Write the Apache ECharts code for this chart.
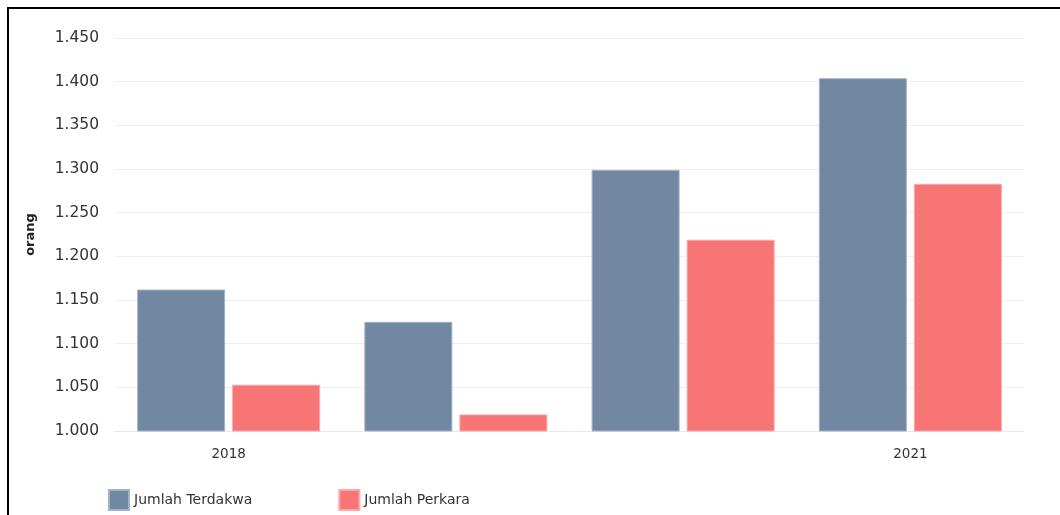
<!DOCTYPE html>
<html>
<head>
<meta charset="utf-8">
<script src="https://cdn.jsdelivr.net/npm/echarts@6/dist/echarts.min.js"></script>
<style>
html,body{margin:0;padding:0;background:#fff;}
#frame{position:absolute;left:7px;top:7px;width:1100px;height:600px;border-left:2px solid #000;border-top:2px solid #000;box-sizing:border-box;pointer-events:none;z-index:2;}
#chart{position:absolute;left:0;top:0;width:1060px;height:515px;}
</style>
</head>
<body>
<div id="chart"></div>
<div id="frame"></div>
<script>
const categories = ['2018', '2019', '2020', '2021'];
const shownLabels = ['2018', '2021'];
const terdakwa = [1162, 1125, 1299, 1404];
const perkara = [1053, 1019, 1219, 1283];
const seriesNames = ['Jumlah Terdakwa', 'Jumlah Perkara'];
const yMin = 1000, yMax = 1450, yStep = 50;

const chart = echarts.init(document.getElementById('chart'));
chart.setOption({
  animation: false,
  textStyle: { fontFamily: 'DejaVu Sans' },
  grid: { left: 115, right: 36, top: 38, bottom: 84 },
  legend: {
    left: 103, bottom: -1, itemWidth: 20, itemHeight: 20, itemGap: 86,
    icon: 'rect',
    textStyle: { fontSize: 14, color: '#333', fontFamily: 'DejaVu Sans' },
    data: seriesNames
  },
  xAxis: {
    type: 'category', data: categories,
    axisLine: { show: true, lineStyle: { color: '#e8e8e8' } },
    axisTick: { show: false },
    axisLabel: {
      fontSize: 13.5, color: '#333', margin: 16,
      formatter: v => shownLabels.includes(v) ? v : ''
    }
  },
  yAxis: {
    type: 'value', min: yMin, max: yMax, interval: yStep,
    name: 'orang', nameLocation: 'middle', nameGap: 78, nameRotate: 90,
    nameTextStyle: { fontSize: 13, fontWeight: 'bold', color: '#222', padding: [0, 0, 0, 0] },
    axisLine: { show: false }, axisTick: { show: false },
    axisLabel: { fontSize: 15.5, color: '#333', margin: 16, formatter: v => (v / 1000).toFixed(3) },
    splitLine: { lineStyle: { color: '#eeeeee' } }
  },
  series: [
    {
      name: seriesNames[0], type: 'bar', data: terdakwa,
      barWidth: 88, barGap: '8%',
      itemStyle: { color: '#7187a2', borderColor: '#a3b3c6', borderWidth: 1 }
    },
    {
      name: seriesNames[1], type: 'bar', data: perkara,
      barWidth: 88,
      itemStyle: { color: '#f87575', borderColor: '#fba8a8', borderWidth: 1 }
    }
  ]
});
</script>
</body>
</html>
